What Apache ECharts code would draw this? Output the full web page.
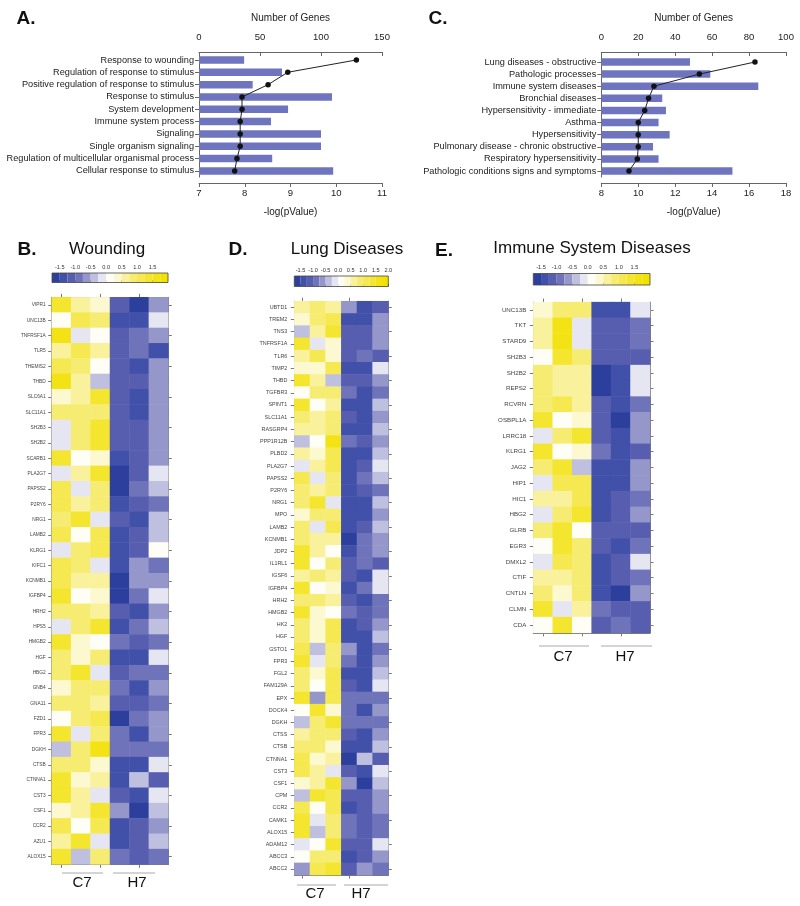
<!DOCTYPE html>
<html><head><meta charset="utf-8">
<script src="https://cdn.jsdelivr.net/npm/echarts@6/dist/echarts.min.js"></script>
<style>html,body{margin:0;padding:0;background:#fff}#c{width:800px;height:906px}</style>
</head><body><div id="c"></div>
<script>
// ---------- Panel A data ----------
const goTerms = ['Response to wounding','Regulation of response to stimulus','Positive regulation of response to stimulus','Response to stimulus','System development','Immune system process','Signaling','Single organism signaling','Regulation of multicellular organismal process','Cellular response to stimulus'];
const goGeneCounts = [37, 68, 44, 109, 73, 59, 100, 100, 60, 110];
const goLogP = [10.44, 8.94, 8.51, 7.94, 7.94, 7.90, 7.90, 7.90, 7.83, 7.78];
// ---------- Panel C data ----------
const disTerms = ['Lung diseases - obstructive','Pathologic processes','Immune system diseases','Bronchial diseases','Hypersensitivity - immediate','Asthma','Hypersensitivity','Pulmonary disease - chronic obstructive','Respiratory hypersensitivity','Pathologic conditions signs and symptoms'];
const disGeneCounts = [48, 59, 85, 33, 35, 31, 37, 28, 31, 71];
const disLogP = [16.32, 13.31, 10.85, 10.56, 10.35, 10.0, 10.0, 10.0, 9.95, 9.5];
// ---------- Heatmap columns ----------
const sampleCols = ['C7-1','C7-2','C7-3','H7-1','H7-2','H7-3'];
// ---------- Panel B: Wounding ----------
const woundGenes = ['VIPR1','UNC13B','TNFRSF1A','TLR5','THEMIS2','THBD','SLC6A1','SLC11A1','SH2B3','SH2B2','SCARB1','PLA2G7','PAPSS2','P2RY6','NRG1','LAMB2','KLRG1','KIFC1','KCNMB1','IGFBP4','HRH2','HPS5','HMGB2','HGF','HBG2','GNB4','GNA11','FZD1','FPR3','DGKH','CTSB','CTNNA1','CST3','CSF1','CCR2','AZU1','ALOX15'];
const woundZ = [
 [1.5,0.6,0.3,-1.15,-1.5,-0.65],
 [0.2,1.1,1.0,-1.4,-1.4,-0.15],
 [1.6,-0.15,0.2,-1.15,-0.9,-0.65],
 [0.7,1.1,0.7,-1.15,-0.9,-1.3],
 [1.1,0.9,0.2,-1.15,-1.4,-0.65],
 [1.6,0.7,-0.4,-1.15,-1.15,-0.65],
 [0.3,0.7,1.4,-1.15,-1.4,-0.65],
 [0.9,0.9,0.9,-1.15,-1.4,-0.65],
 [-0.1,0.8,1.4,-1.15,-1.15,-0.65],
 [-0.1,0.8,1.4,-1.15,-1.15,-0.65],
 [1.4,0.1,0.5,-1.35,-1.15,-0.65],
 [-0.1,0.6,1.3,-1.5,-1.15,-0.1],
 [1.1,-0.1,1.0,-1.5,-0.85,-0.3],
 [1.1,0.7,0.8,-1.35,-1.15,-0.95],
 [0.9,1.4,-0.1,-1.1,-1.4,-0.35],
 [1.1,0.05,1.1,-1.35,-1.1,-0.35],
 [-0.1,0.9,1.1,-1.4,-1.1,0.1],
 [1.2,0.9,-0.1,-1.35,-0.65,-0.9],
 [1.1,0.7,0.7,-1.5,-0.65,-0.65],
 [1.4,0.1,0.3,-1.5,-0.9,-0.1],
 [0.9,0.9,0.6,-1.15,-1.35,-0.65],
 [-0.1,0.9,1.4,-1.35,-0.9,-0.35],
 [1.4,0.3,0.1,-0.9,-1.15,-0.95],
 [0.9,0.4,1.0,-1.35,-1.35,-0.1],
 [0.9,1.4,-0.1,-1.1,-0.9,-0.9],
 [0.4,1.0,1.0,-0.95,-1.35,-0.7],
 [1.0,0.8,0.6,-1.1,-1.1,-0.95],
 [0.1,1.0,1.1,-1.5,-0.95,-0.7],
 [1.3,-0.1,0.9,-0.9,-1.4,-0.7],
 [-0.35,0.8,1.6,-0.9,-0.9,-0.9],
 [0.9,1.0,0.3,-1.4,-1.4,-0.1],
 [1.4,0.3,0.6,-1.4,-0.35,-1.15],
 [1.5,0.6,-0.1,-1.15,-1.4,-0.1],
 [0.3,0.7,1.3,-0.65,-1.5,-0.3],
 [1.1,0.05,1.1,-1.35,-1.15,-0.6],
 [0.6,1.5,-0.1,-1.35,-1.15,-0.35],
 [1.4,-0.35,0.9,-0.9,-1.15,-0.9]
];
// ---------- Panel D: Lung Diseases ----------
const lungGenes = ['UBTD1','TREM2','TNS3','TNFRSF1A','TLR6','TIMP2','THBD','TGFBR3','SPINT1','SLC11A1','RASGRP4','PPP1R12B','PLBD2','PLA2G7','PAPSS2','P2RY6','NRG1','MPO','LAMB2','KCNMB1','JDP2','IL1RL1','IGSF6','IGFBP4','HRH2','HMGB2','HK2','HGF','GSTO1','FPR3','FGL2','FAM129A','EPX','DOCK4','DGKH','CTSS','CTSB','CTNNA1','CST3','CSF1','CPM','CCR2','CAMK1','ALOX15','ADAM12','ABCC3','ABCC2'];
const lungZ = [
 [0.7,1.0,0.6,-0.65,-1.35,-1.1],
 [0.3,0.8,1.1,-1.35,-1.35,-0.6],
 [-0.4,0.6,1.5,-1.15,-1.15,-0.6],
 [1.4,-0.1,0.3,-1.15,-1.15,-0.6],
 [0.7,1.1,0.5,-1.15,-0.85,-1.15],
 [0.3,0.3,1.2,-1.4,-1.4,-0.2],
 [1.4,0.6,-0.35,-1.15,-1.15,-0.6],
 [0.15,1.0,1.0,-0.9,-1.35,-0.95],
 [1.4,0.05,0.6,-1.35,-1.35,-0.3],
 [0.8,0.7,0.8,-1.15,-1.35,-0.6],
 [0.7,0.6,1.0,-1.35,-1.35,-0.3],
 [-0.35,0.2,1.6,-0.9,-1.1,-0.6],
 [0.7,0.3,1.1,-1.35,-1.35,-0.3],
 [-0.1,0.7,1.1,-1.4,-1.1,-0.1],
 [1.1,-0.1,1.0,-1.4,-0.85,-0.3],
 [1.0,0.7,0.9,-1.35,-1.15,-0.95],
 [0.8,1.3,-0.1,-1.35,-1.35,-0.3],
 [0.3,0.8,0.8,-1.35,-1.35,-0.6],
 [1.0,-0.1,1.1,-1.35,-1.1,-0.3],
 [0.8,0.6,0.6,-1.55,-0.9,-0.65],
 [1.4,0.6,0.05,-1.35,-0.9,-0.6],
 [1.4,0.05,0.9,-1.15,-0.9,-1.15],
 [0.7,0.8,0.7,-1.15,-1.45,-0.1],
 [1.4,0.05,0.3,-1.4,-0.9,-0.1],
 [0.9,0.9,0.6,-1.15,-1.35,-0.95],
 [1.4,0.3,0.05,-0.9,-1.15,-0.95],
 [0.8,0.4,1.1,-1.35,-1.15,-0.6],
 [0.8,0.4,1.1,-1.35,-1.35,-0.35],
 [1.1,-0.4,0.9,-0.6,-1.35,-0.9],
 [1.3,-0.1,0.9,-0.9,-1.35,-0.65],
 [0.8,0.3,1.1,-1.35,-1.35,-0.35],
 [0.8,0.05,1.1,-1.15,-1.4,-0.15],
 [1.3,-0.6,1.1,-0.9,-0.9,-0.9],
 [0.05,1.4,0.3,-0.9,-1.35,-0.65],
 [-0.35,0.8,1.5,-0.9,-0.9,-0.9],
 [0.7,0.8,0.8,-1.15,-1.35,-0.65],
 [0.8,0.9,0.3,-1.35,-1.35,-0.35],
 [1.1,0.3,0.6,-1.5,-0.35,-1.15],
 [1.2,0.6,-0.1,-1.15,-1.4,-0.15],
 [0.3,0.7,1.3,-0.65,-1.5,-0.35],
 [-0.35,1.3,1.1,-1.15,-1.15,-0.6],
 [1.1,0.05,1.1,-1.35,-1.15,-0.6],
 [1.3,-0.1,1.0,-0.9,-1.15,-0.9],
 [1.4,-0.35,0.8,-0.9,-1.15,-0.9],
 [-0.1,0.05,1.5,-1.15,-1.15,-0.1],
 [0.1,0.9,1.0,-1.35,-1.15,-0.6],
 [-0.6,1.1,1.3,-1.15,-0.65,-0.95]
];
// ---------- Panel E: Immune System Diseases ----------
const immuneGenes = ['UNC13B','TKT','STARD9','SH2B3','SH2B2','REPS2','RCVRN','OSBPL1A','LRRC18','KLRG1','JAG2','HIP1','HIC1','HBG2','GLRB','EGR3','DMXL2','CTIF','CNTLN','CLMN','CDA'];
const immuneZ = [
 [0.3,1.0,1.0,-1.35,-1.35,-0.1],
 [0.7,1.6,-0.1,-1.15,-1.15,-0.95],
 [0.7,1.6,-0.1,-1.15,-1.15,-0.95],
 [0.15,1.4,1.0,-1.15,-1.15,-1.15],
 [0.9,0.6,0.6,-1.55,-1.35,-0.1],
 [0.9,0.6,0.6,-1.55,-1.35,-0.1],
 [0.9,1.1,0.6,-1.15,-1.35,-0.95],
 [1.4,0.05,0.5,-1.15,-1.5,-0.6],
 [-0.1,0.9,1.4,-1.15,-1.35,-0.6],
 [1.4,0.05,0.5,-0.85,-1.35,-1.15],
 [0.9,1.4,-0.3,-1.35,-1.35,-0.6],
 [-0.1,1.1,1.1,-1.35,-1.35,-0.6],
 [0.6,0.6,1.1,-1.35,-1.15,-0.95],
 [-0.1,0.9,1.4,-1.35,-1.15,-0.6],
 [0.9,1.4,0.05,-1.15,-1.15,-1.15],
 [0.2,1.3,0.9,-1.15,-1.4,-0.95],
 [-0.1,1.1,0.9,-1.4,-1.15,-0.1],
 [0.6,0.6,1.0,-1.35,-1.15,-0.95],
 [0.9,0.3,0.9,-1.35,-1.5,-0.6],
 [1.4,-0.1,0.6,-0.9,-1.15,-1.15],
 [0.2,1.5,0.1,-1.15,-0.9,-1.15]
];
// ---------- Colour key ----------
const zBreaks = [-1.5,-1.25,-1.0,-0.75,-0.5,-0.25,0,0.25,0.5,0.75,1.0,1.25,1.5,1.75];
const zColors = ['#2d3f9d','#4150a8','#575eb0','#6e73ba','#9597cb','#bfc0df','#e6e6f2','#fefef6','#fcf8d0','#f9f19c','#f7ec72','#f5e850','#f4e52e','#f3e315','#f2e200'];
const keyTicks = [-1.5,-1.0,-0.5,0,0.5,1.0,1.5];
const keyTicksD = [-1.5,-1.0,-0.5,0,0.5,1.0,1.5,2.0];

function pieces() {
  return zColors.map((c, i) => {
    const p = { color: c };
    if (i > 0) p.gt = zBreaks[i - 1];
    if (i < zBreaks.length) p.lte = zBreaks[i];
    return p;
  });
}
const toCells = z => z.flatMap((row, r) => row.map((v, c) => [c, r, v]));

const FONT = '"Liberation Sans", Arial, Helvetica, sans-serif';
const axisGray = '#666';

function barPanel(gi, cats, opts) {
  return {
    xTop: {
      type: 'value', gridIndex: gi, position: 'top', min: 0, max: opts.gMax, interval: opts.gInt,
      offset: opts.topOff,
      name: 'Number of Genes', nameLocation: 'middle', nameGap: 29,
      nameTextStyle: { fontFamily: FONT, fontSize: 10, color: '#222' },
      axisLine: { show: true, lineStyle: { color: axisGray, width: 1 } },
      axisTick: { show: true, inside: true, length: 4, lineStyle: { color: axisGray } },
      axisLabel: { fontFamily: FONT, fontSize: 9.5, color: '#222', margin: 10 },
      splitLine: { show: false }
    },
    xBot: {
      type: 'value', gridIndex: gi, position: 'bottom', min: opts.pMin, max: opts.pMax, interval: opts.pInt,
      offset: opts.botOff,
      name: '-log(pValue)', nameLocation: 'middle', nameGap: 24,
      nameTextStyle: { fontFamily: FONT, fontSize: 10, color: '#222' },
      axisLine: { show: true, lineStyle: { color: axisGray, width: 1 } },
      axisTick: { show: true, length: 4, lineStyle: { color: axisGray } },
      axisLabel: { fontFamily: FONT, fontSize: 9.5, color: '#222', margin: 5 },
      splitLine: { show: false }
    },
    y: {
      type: 'category', gridIndex: gi, data: cats, inverse: true,
      axisLine: { show: true, lineStyle: { color: axisGray, width: 1 } },
      axisTick: { show: true, alignWithLabel: true, length: 4, lineStyle: { color: axisGray } },
      axisLabel: { fontFamily: FONT, fontSize: 9.2, color: '#222', margin: 5, interval: 0 }
    }
  };
}

const pA = barPanel(0, goTerms, { gMax: 150, gInt: 50, pMin: 7, pMax: 11, pInt: 1, topOff: 1.8, botOff: 5.9 });
const pC = barPanel(1, disTerms, { gMax: 100, gInt: 20, pMin: 8, pMax: 18, pInt: 2, topOff: 3.9, botOff: 5.9 });

function heatAxes(gi, genes, fs, margin) {
  const line = { show: true, lineStyle: { color: '#7a7a7a', width: 1 } };
  const tick = { show: true, alignWithLabel: true, length: 3.5, lineStyle: { color: '#7a7a7a' } };
  return {
    x: [
      { type: 'category', gridIndex: gi, position: 'bottom', data: sampleCols, axisLine: line, axisTick: tick, axisLabel: { show: false }, splitLine: { show: false } },
      { type: 'category', gridIndex: gi, position: 'top', data: sampleCols, axisLine: line, axisTick: tick, axisLabel: { show: false }, splitLine: { show: false } }
    ],
    y: [
      { type: 'category', gridIndex: gi, position: 'left', data: genes, inverse: true, axisLine: line, axisTick: tick,
        axisLabel: { fontFamily: FONT, fontSize: fs, color: '#444', margin: margin, interval: 0 } },
      { type: 'category', gridIndex: gi, position: 'right', data: genes, inverse: true, axisLine: line, axisTick: tick, axisLabel: { show: false } }
    ]
  };
}
const hB = heatAxes(2, woundGenes, 4.8, 6);
const hD = heatAxes(3, lungGenes, 5.4, 7);
const hE = heatAxes(4, immuneGenes, 6.2, 7);

function keyAxis(gi, ticks) {
  return {
    type: 'value', gridIndex: gi, position: 'top', min: -1.75, max: 2.0,
    axisLine: { show: false },
    axisTick: { show: true, length: 2.5, customValues: ticks, lineStyle: { color: '#444', width: 0.8 } },
    axisLabel: { show: true, customValues: ticks, fontFamily: FONT, fontSize: 5.6, color: '#333', margin: 3, formatter: v => Number(v).toFixed(1) },
    splitLine: { show: false }
  };
}
function keyY(gi) { return { type: 'value', gridIndex: gi, show: false, min: 0, max: 1 }; }

const keyBoxes = [
  { left: 52, top: 273, width: 116, height: 9.5 },
  { left: 294.3, top: 276, width: 94, height: 10.5 },
  { left: 533.3, top: 273.5, width: 116.7, height: 11.5 }
];

function visual(si, box) {
  return {
    type: 'piecewise', seriesIndex: si, pieces: pieces(), orient: 'horizontal',
    left: box.left, top: box.top, itemWidth: box.width / zColors.length, itemHeight: box.height,
    itemGap: 0, padding: 0, showLabel: false, itemSymbol: 'rect', hoverLink: false, selectedMode: false
  };
}

const txt = (t, x, y, size, weight, align) => ({
  type: 'text', x: x, y: y, silent: true,
  style: { text: t, fill: '#111', font: (weight || 'normal') + ' ' + size + 'px ' + FONT,
           textAlign: align || 'center', textVerticalAlign: 'middle', align: align || 'center', verticalAlign: 'middle' }
});
const ln = (x1, x2, y) => ({ type: 'line', silent: true, shape: { x1: x1, y1: y, x2: x2, y2: y }, style: { stroke: '#aaa', lineWidth: 1 } });

const option = {
  animation: false,
  backgroundColor: '#fff',
  grid: [
    { left: 199, top: 53.8, width: 183, height: 123.3, containLabel: false },
    { left: 601.3, top: 55.95, width: 184.7, height: 121.1, containLabel: false },
    { left: 51.7, top: 297.3, width: 116.6, height: 567.1 },
    { left: 294.3, top: 301.2, width: 94, height: 573.9 },
    { left: 533.3, top: 302.1, width: 116.7, height: 330.75 },
    Object.assign({ show: true, borderColor: '#444', borderWidth: 0.8, backgroundColor: 'transparent', z: 10 }, keyBoxes[0]),
    Object.assign({ show: true, borderColor: '#444', borderWidth: 0.8, backgroundColor: 'transparent', z: 10 }, keyBoxes[1]),
    Object.assign({ show: true, borderColor: '#444', borderWidth: 0.8, backgroundColor: 'transparent', z: 10 }, keyBoxes[2])
  ],
  xAxis: [pA.xTop, pA.xBot, pC.xTop, pC.xBot, hB.x[0], hB.x[1], hD.x[0], hD.x[1], hE.x[0], hE.x[1],
          keyAxis(5, keyTicks), keyAxis(6, keyTicksD), keyAxis(7, keyTicks)],
  yAxis: [pA.y, pC.y, hB.y[0], hB.y[1], hD.y[0], hD.y[1], hE.y[0], hE.y[1], keyY(5), keyY(6), keyY(7)],
  visualMap: [visual(4, keyBoxes[0]), visual(5, keyBoxes[1]), visual(6, keyBoxes[2])],
  series: [
    { type: 'bar', xAxisIndex: 0, yAxisIndex: 0, data: goGeneCounts, barWidth: 7.5, itemStyle: { color: '#6e74be' }, z: 2 },
    { type: 'line', xAxisIndex: 1, yAxisIndex: 0, data: goLogP.map((v, i) => [v, i]), symbol: 'circle', symbolSize: 5.5,
      itemStyle: { color: '#111' }, lineStyle: { color: '#222', width: 1 }, z: 5 },
    { type: 'bar', xAxisIndex: 2, yAxisIndex: 1, data: disGeneCounts, barWidth: 7.5, itemStyle: { color: '#6e74be' }, z: 2 },
    { type: 'line', xAxisIndex: 3, yAxisIndex: 1, data: disLogP.map((v, i) => [v, i]), symbol: 'circle', symbolSize: 5.5,
      itemStyle: { color: '#111' }, lineStyle: { color: '#222', width: 1 }, z: 5 },
    { type: 'heatmap', xAxisIndex: 4, yAxisIndex: 2, data: toCells(woundZ), progressive: 0 },
    { type: 'heatmap', xAxisIndex: 6, yAxisIndex: 4, data: toCells(lungZ), progressive: 0 },
    { type: 'heatmap', xAxisIndex: 8, yAxisIndex: 6, data: toCells(immuneZ), progressive: 0 }
  ],
  graphic: [
    txt('A.', 26, 19, 19, 'bold'),
    txt('C.', 438, 19, 19, 'bold'),
    txt('B.', 27, 250, 19, 'bold'),
    txt('D.', 238, 250, 19, 'bold'),
    txt('E.', 444, 251, 19, 'bold'),
    txt('Wounding', 107, 249, 17),
    txt('Lung Diseases', 347, 249.5, 17),
    txt('Immune System Diseases', 592, 248, 17),
    ln(62, 103, 873), ln(113, 155, 873),
    txt('C7', 82, 883, 15), txt('H7', 137, 883, 15),
    ln(297, 336, 885), ln(344, 388, 885),
    txt('C7', 315, 894, 15), txt('H7', 361, 894, 15),
    ln(539, 589, 646), ln(601, 652, 646),
    txt('C7', 563, 657, 15), txt('H7', 625, 657, 15)
  ]
};
const chart = echarts.init(document.getElementById('c'), null, { renderer: 'canvas' });
chart.setOption(option);
</script></body></html>
